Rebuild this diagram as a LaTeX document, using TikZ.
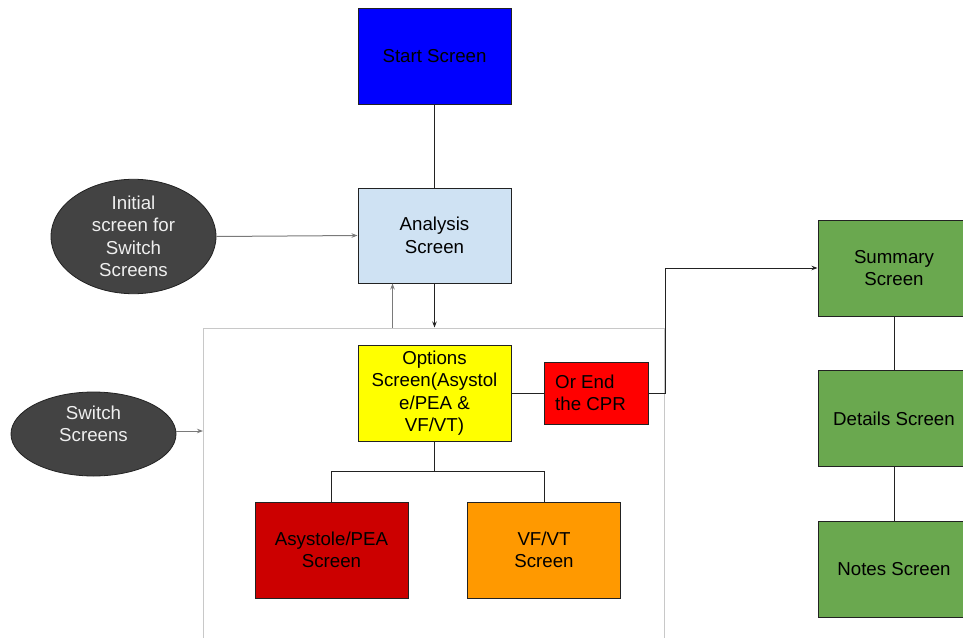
\documentclass[tikz,border=0pt]{standalone}
\usepackage{fontspec}
\setmainfont{Liberation Sans}
\usetikzlibrary{arrows.meta,shapes.geometric}
\definecolor{startblue}{HTML}{0000FF}
\definecolor{anablue}{HTML}{CFE2F3}
\definecolor{optyellow}{HTML}{FFFF00}
\definecolor{endred}{HTML}{FF0000}
\definecolor{asyred}{HTML}{CC0000}
\definecolor{vforange}{HTML}{FF9900}
\definecolor{sumgreen}{HTML}{6AA84F}
\definecolor{ovaldark}{HTML}{434343}
\definecolor{ovaltext}{HTML}{EFEFEF}
\definecolor{bordergray}{HTML}{222222}
\definecolor{contgray}{HTML}{C8C8C8}
\definecolor{arrgray}{HTML}{7A7A7A}
\tikzset{
  screenbox/.style={draw=bordergray, line width=1pt, rectangle, inner sep=0pt, align=center,
    font=\fontsize{18.7}{22.4}\selectfont, text=black},
  oval/.style={draw=bordergray, line width=0.8pt, ellipse, fill=ovaldark, inner sep=0pt, align=center,
    font=\fontsize{18.7}{22.4}\selectfont, text=ovaltext},
  ovaltxt/.style={inner sep=0pt, align=center, font=\fontsize{18.7}{22.4}\selectfont, text=ovaltext},
  conn/.style={draw=bordergray, line width=1pt},
  arr/.style={conn, -{Stealth[length=6pt,width=4.5pt]}},
  grayarr/.style={draw=arrgray, line width=1pt, -{Stealth[length=6pt,width=4.5pt]}},
  container/.style={draw=contgray, line width=1pt, rectangle, inner sep=0pt}
}
\begin{document}
\begin{tikzpicture}[x=1pt,y=-1pt]
\useasboundingbox (0,0) rectangle (963,637);
\clip (0,0) rectangle (963,637);
\fill[white] (0,0) rectangle (963,637);
% container
\node[container, minimum width=461pt, minimum height=340pt] (cont) at (434,498) {};
% screens
\node[screenbox, fill=startblue, minimum width=153pt, minimum height=96pt] (start) at (434.5,56) {Start Screen};
\node[screenbox, fill=anablue, minimum width=153pt, minimum height=95pt] (ana) at (434.5,235.5) {Analysis\\Screen};
\node[screenbox, fill=optyellow, minimum width=153pt, minimum height=96pt] (opt) at (434.5,393) {Options\\Screen(Asystol\\e/PEA \&\\VF/VT)};
\node[screenbox, fill=endred, minimum width=104pt, minimum height=62pt] (endcpr) at (596,393) {};
\node[font=\fontsize{18.7}{22.4}\selectfont, align=left, anchor=west, inner sep=0pt, text=black] (endtxt) at (555,393) {Or End\\the CPR};
\node[screenbox, fill=asyred, minimum width=153pt, minimum height=96pt] (asy) at (331.5,550) {Asystole/PEA\\Screen};
\node[screenbox, fill=vforange, minimum width=153pt, minimum height=96pt] (vf) at (544,550) {VF/VT\\Screen};
\node[screenbox, fill=sumgreen, minimum width=152pt, minimum height=96pt] (sum) at (894,268) {Summary\\Screen};
\node[screenbox, fill=sumgreen, minimum width=152pt, minimum height=96pt] (det) at (894,418.5) {Details Screen};
\node[screenbox, fill=sumgreen, minimum width=152pt, minimum height=96pt] (notes) at (894,569.5) {Notes Screen};
% ovals
\node[oval, minimum width=165pt, minimum height=99pt] (init) at (133.5,236.5) {Initial\\screen for\\Switch\\Screens};
\node[oval, minimum width=165pt, minimum height=84pt] (sw) at (93.5,434) {};
\node[ovaltxt] (swtxt) at (93.5,424) {Switch\\Screens};
% connectors
\draw[conn] (start) -- (ana);
\draw[arr] (ana.south) -- (ana.south |- cont.north);
\draw[grayarr] ([xshift=-42pt]ana.south |- cont.north) -- ([xshift=-42pt]ana.south);
\draw[grayarr] (init.east) -- (ana.west);
\draw[grayarr] ([yshift=3pt]sw.east) -- ([yshift=3pt]sw.east -| cont.west);
\draw[conn] (opt.east) -- (endcpr.west);
\draw[arr] (endcpr.east) -- ++(17,0) |- (sum.west);
\draw[conn] (opt.south) -- ++(0,30) -| (asy.north);
\draw[conn] (opt.south) ++(0,30) -| (vf.north);
\draw[conn] (sum) -- (det);
\draw[conn] (det) -- (notes);
\end{tikzpicture}
\end{document}
